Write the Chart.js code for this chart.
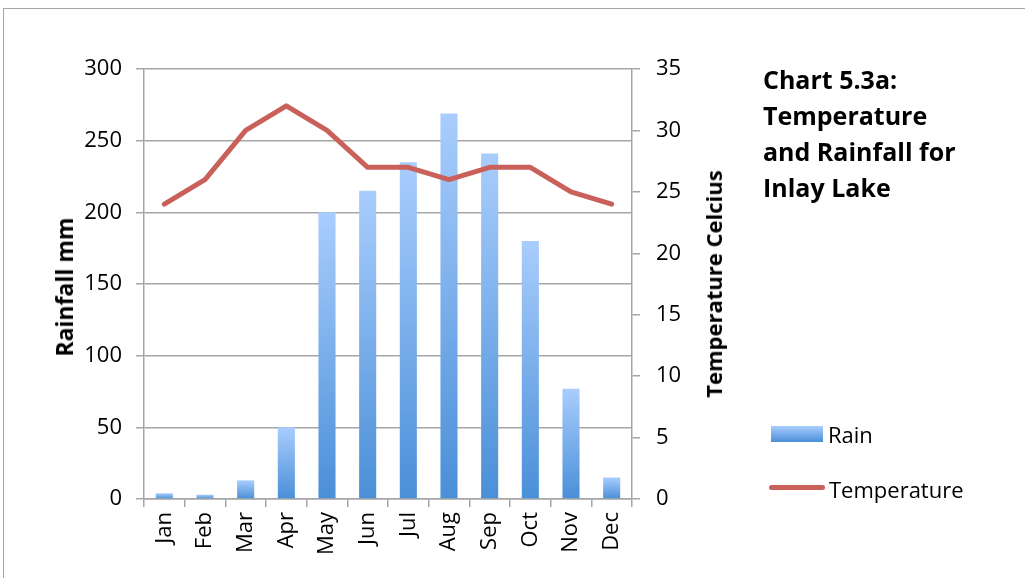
<!DOCTYPE html>
<html>
<head>
<meta charset="utf-8">
<script src="https://cdn.jsdelivr.net/npm/chart.js@4"></script>
<style>
  body { margin: 0; background: #fff; }
  #wrap { position: relative; width: 1025px; height: 578px; overflow: hidden; font-family: "Open Sans", sans-serif; color: #000; }
  #frame { position: absolute; left: 3px; top: 8px; width: 1030px; height: 600px; border-left: 1.5px solid #a6a6a6; border-top: 1.5px solid #a6a6a6; }
  canvas { position: absolute; left: 0; top: 0; }
  .title { position: absolute; left: 763px; top: 61px; font-weight: bold; font-size: 25px; line-height: 36px; }
  .axisTitle { position: absolute; font-weight: bold; font-size: 22px; white-space: nowrap; transform: translate(-50%, -50%) rotate(-90deg); }
  .legText { position: absolute; font-size: 22px; line-height: 22px; white-space: nowrap; }
  .swatch { position: absolute; left: 771px; top: 426px; width: 52px; height: 16px; background: linear-gradient(#a9cdfd, #4a8fd8); }
  .lineSw { position: absolute; left: 769px; top: 485px; width: 56px; height: 5px; border-radius: 3px; background: #c9605a; }
</style>
</head>
<body>
<div id="wrap">
  <div id="frame"></div>
  <canvas id="chart" width="1025" height="578"></canvas>
  <div class="axisTitle" style="left:64px; top:287px; font-size:23px;">Rainfall mm</div>
  <div class="axisTitle" style="left:713px; top:284px;">Temperature Celcius</div>
  <div class="title">Chart 5.3a:<br>Temperature<br>and Rainfall for<br>Inlay Lake</div>
  <div class="swatch"></div>
  <div class="legText" style="left:828px; top:423px;">Rain</div>
  <div class="lineSw"></div>
  <div class="legText" style="left:829px; top:478px;">Temperature</div>
</div>
<script>
const months = ["Jan", "Feb", "Mar", "Apr", "May", "Jun", "Jul", "Aug", "Sep", "Oct", "Nov", "Dec"];
const rain = [4, 3, 13, 50, 200, 215, 235, 269, 241, 180, 77, 15];
const temperature = [24, 26, 30, 32, 30, 27, 27, 26, 27, 27, 25, 24];

const gridGray = "#a6a6a6";
const font = { family: "'Open Sans', sans-serif", size: 22 };

// each bar gets its own light-to-dark gradient, top to bottom
function barFill(context) {
  const chart = context.chart;
  if (!chart.chartArea) return "#7fb2ee";
  const y = chart.scales.y;
  const top = y.getPixelForValue(context.raw);
  const bottom = y.getPixelForValue(0);
  if (bottom - top < 1) return "#4a8fd8";
  const g = chart.ctx.createLinearGradient(0, top, 0, bottom);
  g.addColorStop(0, "#a9cdfd");
  g.addColorStop(1, "#4a8fd8");
  return g;
}

new Chart(document.getElementById("chart"), {
  data: {
    labels: months,
    datasets: [
      {
        type: "line",
        label: "Temperature",
        data: temperature,
        yAxisID: "y1",
        borderColor: "#c9605a",
        borderWidth: 5,
        borderCapStyle: "round",
        borderJoinStyle: "round",
        pointRadius: 0,
        tension: 0,
        order: 0
      },
      {
        type: "bar",
        label: "Rain",
        data: rain,
        yAxisID: "y",
        backgroundColor: barFill,
        barPercentage: 0.42,
        categoryPercentage: 1,
        order: 1
      }
    ]
  },
  options: {
    responsive: false,
    animation: false,
    layout: { padding: { top: 69, left: 0, right: 0, bottom: 0 } },
    plugins: { legend: { display: false }, tooltip: { enabled: false } },
    scales: {
      x: {
        offset: true,
        afterFit: s => { s.height = 79; },
        grid: { offset: true, drawOnChartArea: false, color: gridGray, lineWidth: 1.5, tickLength: 8 },
        border: { color: gridGray, width: 1.5 },
        ticks: { color: "#000", font, minRotation: 90, maxRotation: 90, padding: 5, autoSkip: false }
      },
      y: {
        position: "left",
        min: 0,
        max: 300,
        afterFit: s => { s.width = 144; },
        grid: { color: gridGray, lineWidth: 1.5, tickLength: 8 },
        border: { color: gridGray, width: 1.5 },
        ticks: { stepSize: 50, color: "#000", font, padding: 14 }
      },
      y1: {
        position: "right",
        min: 0,
        max: 35,
        afterFit: s => { s.width = 393; },
        grid: { drawOnChartArea: false, color: gridGray, lineWidth: 1.5, tickLength: 8 },
        border: { color: gridGray, width: 1.5 },
        ticks: { stepSize: 5, color: "#000", font, padding: 16 }
      }
    }
  }
});
</script>
</body>
</html>
